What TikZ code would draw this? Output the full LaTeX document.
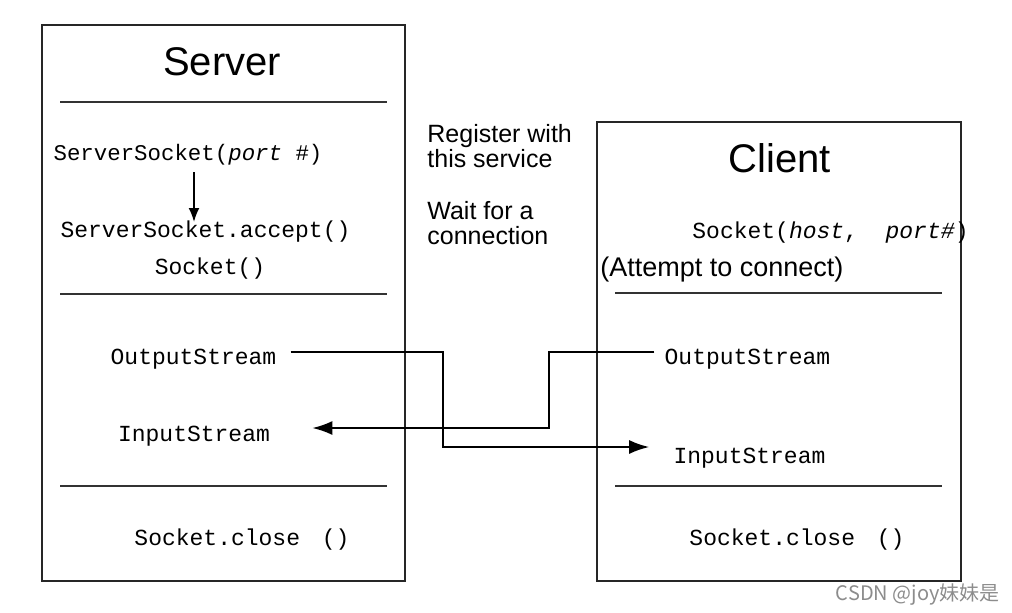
\documentclass[tikz,border=0pt]{standalone}
\usepackage{fontspec}
\setmainfont{Liberation Sans}
\setmonofont{Liberation Mono}
\newfontfamily\cjkfont{Noto Sans CJK SC}
\usetikzlibrary{arrows.meta}

\begin{document}
\begin{tikzpicture}[x=0.5pt, y=-0.5pt,
	title/.style={font=\fontsize{20}{24}\selectfont, anchor=base},
	code/.style={font=\ttfamily\fontsize{11.5}{14}\selectfont, anchor=base, inner sep=2pt},
	note/.style={font=\fontsize{12.5}{12.5}\selectfont, align=left, anchor=north west, inner sep=0pt},
	frame/.style={line width=1.3pt, draw=black!85},
	rule/.style={line width=1.1pt, draw=black!80},
	stream/.style={line width=1pt, -{Latex[length=10pt,width=7pt]}}]
	\useasboundingbox (0,0) rectangle (1012,612);

	% the two boxes
	\draw[frame] (42,25) rectangle (405,581);
	\draw[frame] (597,122) rectangle (961,581);
	\draw[rule] (60,102) -- (387,102);
	\draw[rule] (60,294) -- (387,294);
	\draw[rule] (60,486) -- (387,486);
	\draw[rule] (615,293) -- (942,293);
	\draw[rule] (615,486) -- (942,486);

	% server side
	\node[title] (srv) at (222,75) {Server};
	\node[code, font=\ttfamily\fontsize{11.2}{14}\selectfont] (ssock) at (188,160) {ServerSocket(\textit{port} \#)};
	\node[code] (accept) at (205.5,237) {ServerSocket.accept()};
	\node[code] (sock) at (210,274) {Socket()};
	\node[code] (souts) at (193.5,364) {OutputStream};
	\node[code] (sins) at (194,441) {InputStream};
	\node[code] (sclose) at (242,545) {Socket.close\hspace{0.95em}()};
	\draw[line width=0.9pt, -{Latex[length=7pt,width=5.5pt]}] ([shift={(3pt,-6pt)}]ssock.base) -- ([shift={(-5.75pt,7.5pt)}]accept.base);

	% middle notes
	\node[note] (reg) at (427,124) {Register with\\this service};
	\node[note] (wait) at (427,201) {Wait for a\\connection};

	% client side
	\node[title] (cli) at (780,172) {Client};
	\node[code, anchor=base west] (csock) at (688,238) {Socket(\textit{host},~~\textit{port\#})};
	\node[font=\fontsize{13.5}{16}\selectfont, anchor=base west, inner sep=0pt] (attempt) at (600,276) {(Attempt to connect)};
	\node[code] (couts) at (747.5,364) {OutputStream};
	\node[code] (cins) at (749.5,463) {InputStream};
	\node[code] (cclose) at (797,545) {Socket.close\hspace{0.95em}()};

	% streams
	\coordinate (j1) at (443,447);
	\coordinate (j2) at (549,428);
	\draw[stream] ([shift={(5pt,6pt)}]souts.base east) -| (j1) -- ([shift={(-10pt,8pt)}]cins.base west);
	\draw[stream] ([shift={(-3pt,6pt)}]couts.base west) -| (j2) -- ([shift={(19pt,6.5pt)}]sins.base east);

	\node[font=\cjkfont\fontsize{10}{12}\selectfont, text=black!45, anchor=base east, inner sep=0pt] (mark) at (1000,600) {CSDN @joy妹妹是};
\end{tikzpicture}
\end{document}
